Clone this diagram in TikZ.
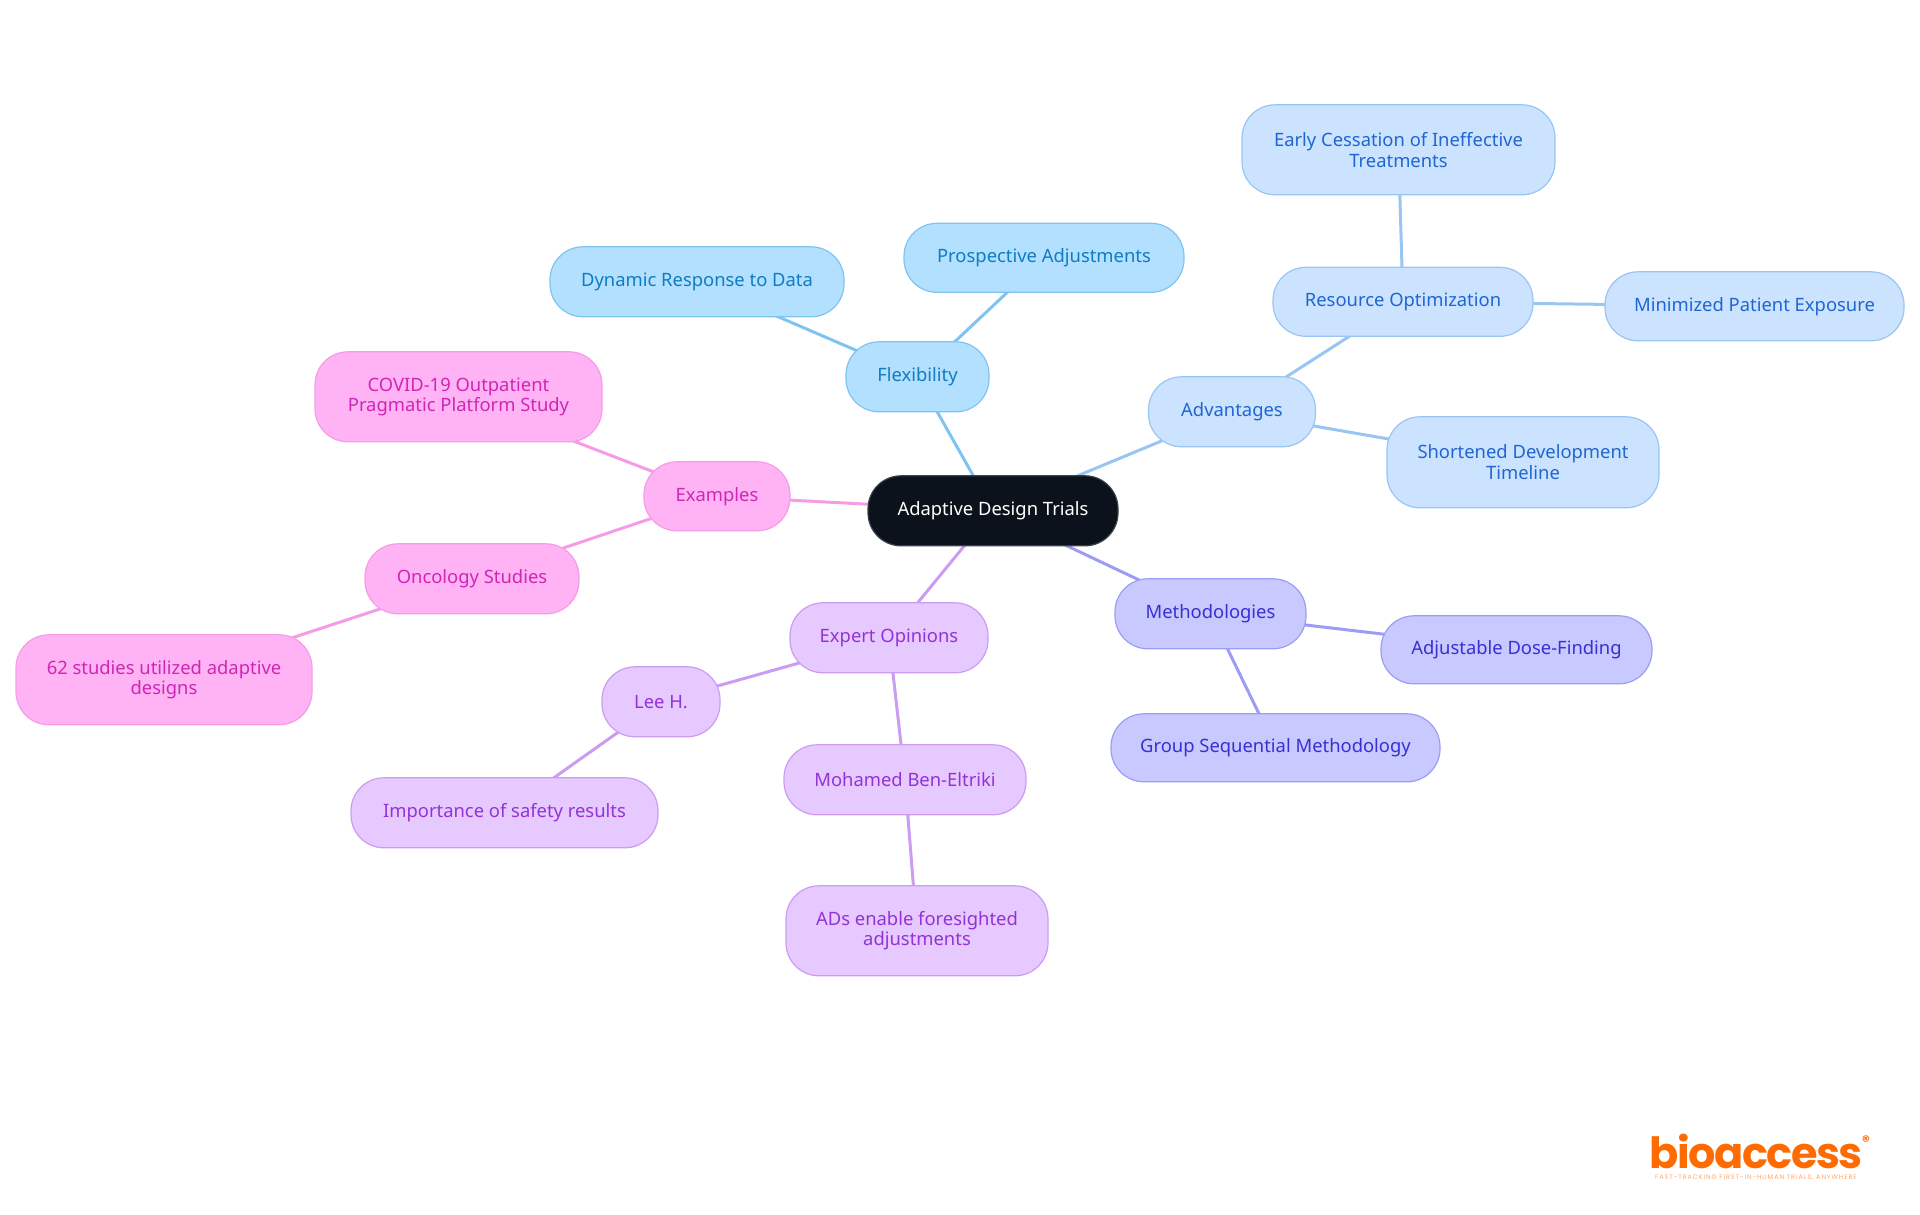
\documentclass[tikz,border=0pt]{standalone}
\usepackage{fontspec}
\setmainfont{Noto Sans}
\newfontfamily\logofont[LetterSpace=-3.5]{Poppins}
\newfontfamily\tagfont[LetterSpace=14]{Poppins}
\usetikzlibrary{backgrounds}
\definecolor{skyfill}{HTML}{B3E0FF}
\definecolor{skytext}{HTML}{0F7CC4}
\definecolor{skyline}{HTML}{7FC4F0}
\definecolor{bluefill}{HTML}{CCE3FF}
\definecolor{bluetext}{HTML}{1F66D1}
\definecolor{blueline}{HTML}{99C5F2}
\definecolor{indigofill}{HTML}{C7C9FF}
\definecolor{indigotext}{HTML}{3730D4}
\definecolor{indigoline}{HTML}{9C9CF5}
\definecolor{purplefill}{HTML}{E6C9FF}
\definecolor{purpletext}{HTML}{9333D6}
\definecolor{purpleline}{HTML}{CC9CF2}
\definecolor{pinkfill}{HTML}{FFB3F5}
\definecolor{pinktext}{HTML}{CF26B5}
\definecolor{pinkline}{HTML}{F59CE6}
\definecolor{rootfill}{HTML}{0B121B}
\definecolor{logoorange}{HTML}{FF6B00}
\tikzset{
    topic/.style={rounded corners=33pt,align=center,inner sep=0pt,line width=1.2pt,yshift=-0.8pt,
        font=\fontsize{18.4}{20.6}\selectfont},
    root/.style={topic,fill=rootfill,draw=rootfill!80!white,text=white},
    sky/.style={topic,fill=skyfill,draw=skyline,text=skytext},
    blue/.style={topic,fill=bluefill,draw=blueline,text=bluetext},
    indigo/.style={topic,fill=indigofill,draw=indigoline,text=indigotext},
    purple/.style={topic,fill=purplefill,draw=purpleline,text=purpletext},
    pink/.style={topic,fill=pinkfill,draw=pinkline,text=pinktext},
    branch/.style={line width=3pt}
}
\begin{document}
\begin{tikzpicture}[x=1pt,y=-1pt]
    \useasboundingbox (0,0) rectangle (1920,1215);
    % Centre
    \node (trials) at (993,510) [root,minimum width=250,minimum height=70] {Adaptive Design Trials};
    % Flexibility
    \node (flexibility) at (917.5,376) [sky,minimum width=143,minimum height=70] {Flexibility};
    \node (prospective) at (1044,257) [sky,minimum width=280,minimum height=69] {Prospective Adjustments};
    \node (dynamic) at (697,281) [sky,minimum width=294,minimum height=70] {Dynamic Response to Data};
    % Advantages
    \node (advantages) at (1232,411) [blue,minimum width=167,minimum height=70] {Advantages};
    \node (resource) at (1403,301) [blue,minimum width=260,minimum height=69] {Resource Optimization};
    \node (early) at (1398.5,149) [blue,minimum width=313,minimum height=90] {Early Cessation of Ineffective\\Treatments};
    \node (minimized) at (1754.5,305.5) [blue,minimum width=299,minimum height=69] {Minimized Patient Exposure};
    \node (shortened) at (1523,461.5) [blue,minimum width=272,minimum height=91] {Shortened Development\\Timeline};
    % Methodologies
    \node (methodologies) at (1210.5,613) [indigo,minimum width=191,minimum height=70] {Methodologies};
    \node (adjustable) at (1516.5,649) [indigo,minimum width=271,minimum height=68] {Adjustable Dose-Finding};
    \node (sequential) at (1275.5,747) [indigo,minimum width=329,minimum height=68] {Group Sequential Methodology};
    % Expert opinions
    \node (expert) at (889,637) [purple,minimum width=198,minimum height=70] {Expert Opinions};
    \node (lee) at (661,701) [purple,minimum width=118,minimum height=70] {Lee H.};
    \node (safety) at (504.5,812) [purple,minimum width=307,minimum height=70] {Importance of safety results};
    \node (mohamed) at (905,779) [purple,minimum width=242,minimum height=70] {Mohamed Ben-Eltriki};
    \node (foresight) at (917,930) [purple,minimum width=262,minimum height=90] {ADs enable foresighted\\adjustments};
    % Examples
    \node (examples) at (717,495.5) [pink,minimum width=146,minimum height=69] {Examples};
    \node (covid) at (458.5,396) [pink,minimum width=287,minimum height=90] {COVID-19 Outpatient\\Pragmatic Platform Study};
    \node (oncology) at (472,578) [pink,minimum width=214,minimum height=70] {Oncology Studies};
    \node (studies) at (164,679) [pink,minimum width=296,minimum height=90] {62 studies utilized adaptive\\designs};
    % Branches go under the boxes
    \begin{scope}[on background layer]
        \foreach \from/\to in {trials/flexibility,flexibility/prospective,flexibility/dynamic}
            \draw [branch,skyline] (\from.center) -- (\to.center);
        \foreach \from/\to in {trials/advantages,advantages/resource,resource/early,resource/minimized,advantages/shortened}
            \draw [branch,blueline] (\from.center) -- (\to.center);
        \foreach \from/\to in {trials/methodologies,methodologies/adjustable,methodologies/sequential}
            \draw [branch,indigoline] (\from.center) -- (\to.center);
        \foreach \from/\to in {trials/expert,expert/lee,lee/safety,expert/mohamed,mohamed/foresight}
            \draw [branch,purpleline] (\from.center) -- (\to.center);
        \foreach \from/\to in {trials/examples,examples/covid,examples/oncology,oncology/studies}
            \draw [branch,pinkline] (\from.center) -- (\to.center);
    \end{scope}
    % Logo
    \node (logo) at (1756,1168) [anchor=base,text=logoorange,inner sep=0pt,text depth=0pt,font=\logofont\bfseries\fontsize{43}{43}\selectfont] {bioaccess};
    \node (mark) at (1866,1141) [text=logoorange,inner sep=0pt,font=\logofont\bfseries\fontsize{15}{15}\selectfont] {®};
    \node (tagline) at (1756,1178) [text=logoorange!60,inner sep=0pt,font=\tagfont\fontsize{6.5}{6.5}\selectfont] {FAST-TRACKING FIRST-IN-HUMAN TRIALS, ANYWHERE};
\end{tikzpicture}
\end{document}
